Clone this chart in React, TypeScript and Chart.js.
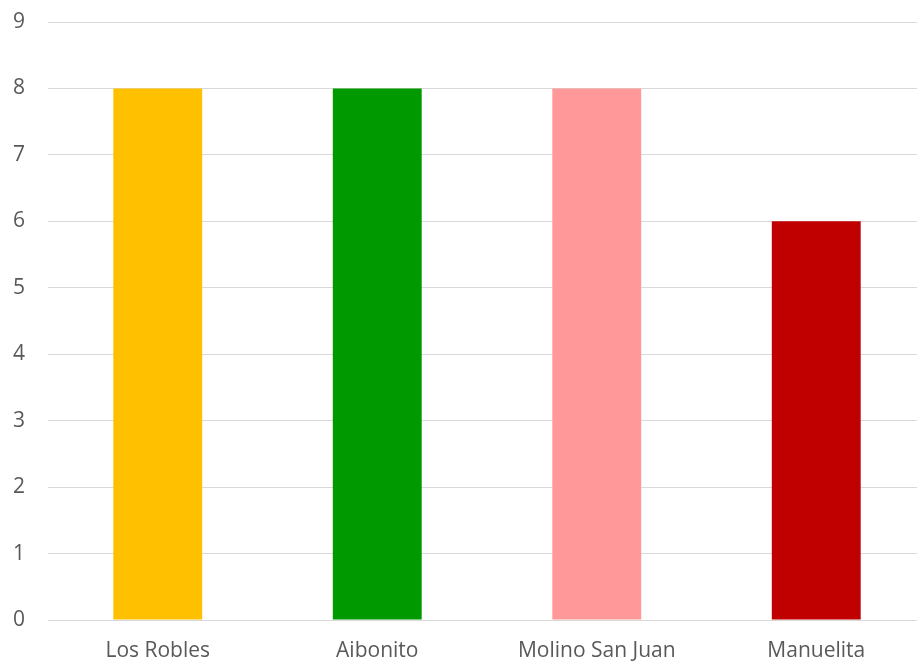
import React, { useEffect, useRef } from "react";
import { Chart, registerables } from "chart.js";

Chart.register(...registerables);

const categories = ["Los Robles", "Aibonito", "Molino San Juan", "Manuelita"];
const values = [8, 8, 8, 6];
const barColors = ["#FFC000", "#009900", "#FF9999", "#C00000"];
const yMin = 0;
const yMax = 9;

export default function App() {
  const ref = useRef<HTMLCanvasElement | null>(null);
  useEffect(() => {
    if (!ref.current) return;
    const chart = new Chart(ref.current, {
      type: "bar",
      data: {
        labels: categories,
        datasets: [
          {
            data: values,
            backgroundColor: barColors,
            borderWidth: 0,
            categoryPercentage: 1,
            barPercentage: 0.405,
          },
        ],
      },
      options: {
        animation: false,
        responsive: false,
        devicePixelRatio: 1,
        layout: { padding: { left: 0, right: 0, top: 22, bottom: 0 } },
        plugins: { legend: { display: false }, tooltip: { enabled: false } },
        scales: {
          x: {
            grid: { display: false, drawTicks: false },
            border: { display: true, color: "#d9d9d9", width: 1 },
            ticks: {
              color: "#595959",
              font: { family: "'Open Sans', sans-serif", size: 21 },
              padding: 18,
              maxRotation: 0,
              autoSkip: false,
            },
            afterFit: (s: any) => {
              s.height = 46;
              s.paddingLeft = 0;
              s.paddingRight = 0;
            },
          },
          y: {
            min: yMin,
            max: yMax,
            grid: { color: "#d9d9d9", lineWidth: 1, drawTicks: false },
            border: { display: false },
            ticks: {
              stepSize: 1,
              color: "#595959",
              font: { family: "'Open Sans', sans-serif", size: 21 },
              padding: 23,
            },
            afterFit: (s: any) => {
              s.width = 48;
              s.paddingTop = 0;
              s.paddingBottom = 0;
            },
          },
        },
      },
    });
    return () => chart.destroy();
  }, []);
  return (
    <div
      style={{
        position: "fixed",
        left: 0,
        top: 0,
        width: 917,
        height: 666,
        overflow: "hidden",
        background: "#fff",
      }}
    >
      <canvas ref={ref} width={926} height={666} style={{ display: "block" }} />
    </div>
  );
}
